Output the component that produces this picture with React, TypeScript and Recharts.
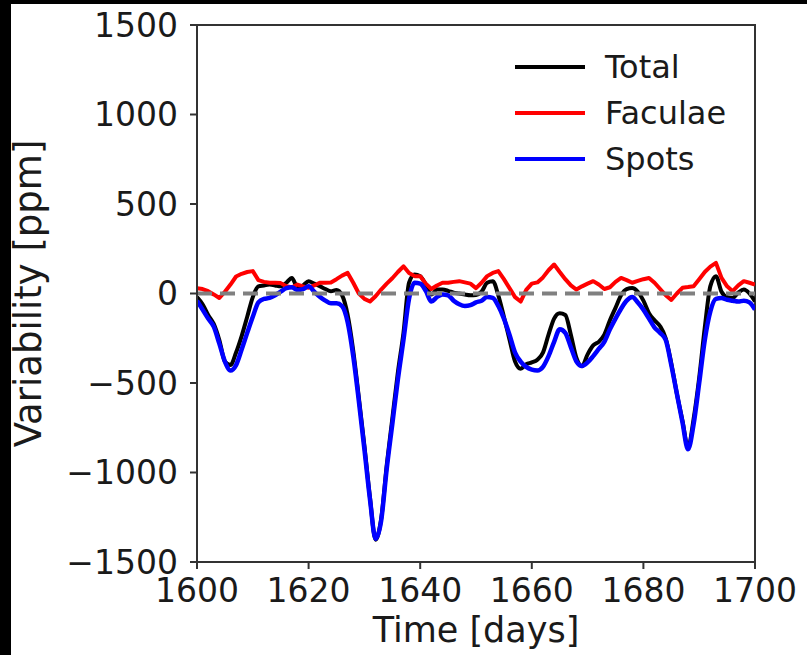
import { Line, LineChart, ReferenceArea, ReferenceLine, XAxis, YAxis } from "recharts";

const days = [
  1600, 1601, 1602, 1603, 1604, 1605, 1606, 1607, 1608, 1609,
  1610, 1611, 1612, 1613, 1614, 1615, 1616, 1617, 1618, 1619,
  1620, 1621, 1622, 1623, 1624, 1625, 1626, 1627, 1628, 1629,
  1630, 1631, 1632, 1633, 1634, 1635, 1636, 1637, 1638, 1639,
  1640, 1641, 1642, 1643, 1644, 1645, 1646, 1647, 1648, 1649,
  1650, 1651, 1652, 1653, 1654, 1655, 1656, 1657, 1658, 1659,
  1660, 1661, 1662, 1663, 1664, 1665, 1666, 1667, 1668, 1669,
  1670, 1671, 1672, 1673, 1674, 1675, 1676, 1677, 1678, 1679,
  1680, 1681, 1682, 1683, 1684, 1685, 1686, 1687, 1688, 1689,
  1690, 1691, 1692, 1693, 1694, 1695, 1696, 1697, 1698, 1699,
  1700,
];

const total = [
  -20, -60, -120, -170, -260, -380, -400, -330, -238, -130,
  -20, 40, 45, 50, 45, 40, 60, 87, 35, 45,
  69, 55, 41, 25, 13, 20, -10, -120, -320, -580,
  -850, -1140, -1375, -1260, -960, -700, -440, -220, 60, 106,
  97, 50, -6, 22, 22, 15, 4, 0, -6, -10,
  -8, 10, 60, 69, -10, -130, -257, -380, -420, -395,
  -385, -370, -330, -230, -140, -110, -120, -230, -360, -406,
  -340, -290, -270, -230, -150, -80, -10, 25, 31, 10,
  -40, -110, -150, -183, -250, -390, -560, -710, -860, -700,
  -470, -190, 41, 97, 10, -20, -25, 5, 22, 0,
  -45,
];

const faculae = [
  30, 25, 13, -5, -25, 10, 50, 95, 110, 120,
  125, 75, 65, 60, 60, 58, 40, 35, 50, 40,
  32, 45, 60, 60, 62, 80, 100, 115, 60, 0,
  -30, -45, -15, 22, 55, 85, 120, 152, 115, 97,
  97, 55, 25, 45, 60, 60, 65, 69, 62, 55,
  30, 60, 97, 115, 125, 80, 30, -20, -45, 20,
  55, 62, 90, 130, 162, 120, 80, 45, 22, 40,
  55, 69, 50, 25, 35, 65, 87, 75, 60, 70,
  80, 87, 60, 25, -10, -36, 0, 32, 36, 41,
  80, 120, 150, 171, 87, 40, 13, 45, 69, 60,
  50,
];

const spots = [
  -40, -90, -140, -185, -280, -380, -430, -400, -313, -220,
  -130, -50, -30, -25, -10, 10, 30, 35, 20, 25,
  40, 10, -18, -40, -55, -55, -70, -160, -350, -600,
  -870, -1150, -1370, -1270, -980, -730, -480, -260, -30, 60,
  55, 15, -45, -20, -5, -10, -40, -60, -70, -65,
  -50, -40, -20, -25, -70, -140, -230, -330, -380, -410,
  -425, -430, -410, -350, -270, -200, -220, -300, -380, -405,
  -385, -350, -310, -270, -200, -140, -85, -40, -20, -50,
  -90, -140, -190, -220, -260, -400, -560, -720, -870, -730,
  -500, -260, -100, -30, -25, -35, -40, -45, -40, -50,
  -90,
];

const xTicks = [1600, 1620, 1640, 1660, 1680, 1700];
const yTicks = [-1500, -1000, -500, 0, 500, 1000, 1500];

const seriesInfo = [
  { key: "total", name: "Total", color: "#000000", curve: "monotone" },
  { key: "faculae", name: "Faculae", color: "#ff0000", curve: "linear" },
  { key: "spots", name: "Spots", color: "#0000ff", curve: "monotone" },
];

const data = days.map((t, i) => ({ t, total: total[i], faculae: faculae[i], spots: spots[i] }));

const FONT = "DejaVu Sans";
const TEXT = "#1a1a1a";

function fmt(v: number) {
  return v < 0 ? "\u2212" + Math.abs(v) : String(v);
}

function LegendBox() {
  return (
    <div style={{ position: "absolute", left: 515, top: 44, fontFamily: FONT, fontSize: 32, color: TEXT }}>
      {seriesInfo.map((s) => (
        <div key={s.key} style={{ display: "flex", alignItems: "center", height: 46 }}>
          <div style={{ width: 70, height: 4, background: s.color, marginRight: 20 }} />
          <span>{s.name}</span>
        </div>
      ))}
    </div>
  );
}

export default function App() {
  return (
    <div style={{ position: "absolute", left: 0, top: 0, width: 807, height: 655, background: "#000" }}>
      <div style={{ position: "absolute", left: 11, top: 4, width: 796, height: 651, background: "#fff" }} />
      <div style={{ position: "absolute", left: 0, top: 0 }}>
        <LineChart width={807} height={655} data={data} margin={{ top: 25, right: 52, bottom: 13, left: 97 }}>
          <XAxis
            dataKey="t"
            type="number"
            domain={[1600, 1700]}
            ticks={xTicks}
            allowDataOverflow
            height={80}
            tickSize={7}
            tickMargin={10}
            stroke="#333"
            strokeWidth={2}
            tick={{ fontFamily: FONT, fontSize: 33, fill: TEXT }}
            label={{ value: "Time [days]", position: "insideBottom", offset: 0, fontFamily: FONT, fontSize: 35, fill: TEXT }}
          />
          <YAxis
            type="number"
            domain={[-1500, 1500]}
            ticks={yTicks}
            allowDataOverflow
            width={100}
            tickSize={7}
            tickMargin={12}
            stroke="#333"
            strokeWidth={2}
            tickFormatter={fmt}
            tick={{ fontFamily: FONT, fontSize: 33, fill: TEXT }}
            label={{ value: "Variability [ppm]", angle: -90, position: "insideLeft", offset: -69, fontFamily: FONT, fontSize: 37, fill: TEXT, style: { textAnchor: "middle" } }}
          />
          <ReferenceArea x1={1600} x2={1700} y1={-1500} y2={1500} fill="none" stroke="#333" strokeWidth={2} fillOpacity={0} />
          {seriesInfo.map((s) => (
            <Line
              key={s.key}
              dataKey={s.key}
              name={s.name}
              type={s.curve as "monotone" | "linear"}
              stroke={s.color}
              strokeWidth={s.key === "spots" ? 4.5 : 4}
              strokeLinejoin="round"
              dot={false}
              activeDot={false}
              isAnimationActive={false}
            />
          ))}
          <ReferenceLine y={0} stroke="#808080" strokeWidth={4} strokeDasharray="15 8" />
        </LineChart>
      </div>
      <LegendBox />
    </div>
  );
}
